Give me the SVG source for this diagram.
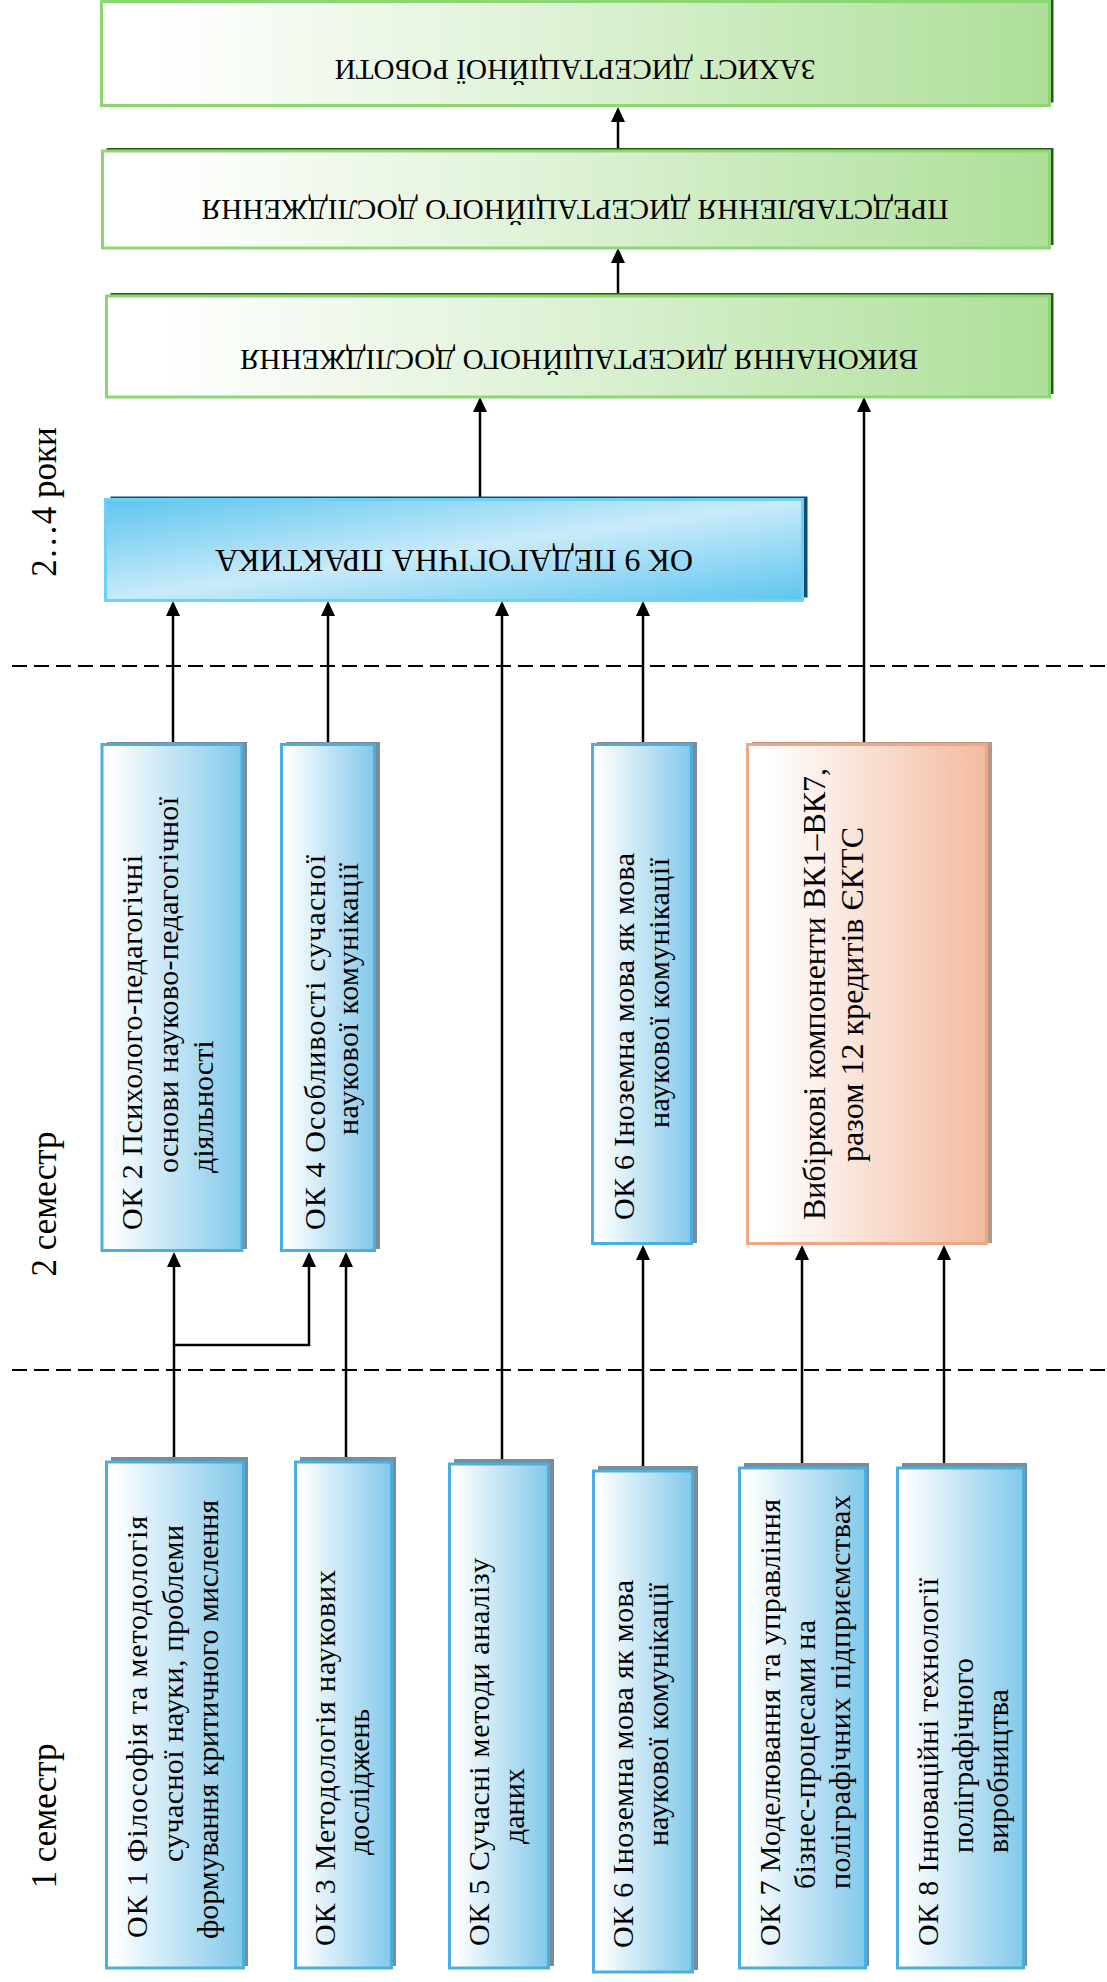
<svg xmlns="http://www.w3.org/2000/svg" width="1107" height="1982" viewBox="0 0 1107 1982">
<style>
.t{font-family:"Liberation Serif","Times New Roman",serif;font-size:30px;fill:#000}
.tv{font-size:32px}
.tg{font-size:29px}
.t9{font-size:31px}
.ts{font-family:"Liberation Serif","Times New Roman",serif;font-size:35px;fill:#000}
.gbox{fill:url(#gGreen);stroke:#8dd773;stroke-width:3}
.gsh{fill:#2b5a1f}
.bbox{fill:url(#gBlue);stroke:#4aaee0;stroke-width:3}
.bsh{fill:#7d8b93}
.vbox{fill:url(#gSalmon);stroke:#f0a584;stroke-width:3}
.vsh{fill:#b4988a}
.pbox{fill:url(#gPed);stroke:#6fd0f5;stroke-width:3}
.psh{fill:#0f4f6d}
.c{stroke:#000;stroke-width:2.5;fill:none}
.ca{stroke:#000;stroke-width:2.5;fill:none;marker-end:url(#ah)}
.d{stroke:#000;stroke-width:2;stroke-dasharray:15 7;fill:none}
</style>
<defs>
<linearGradient id="gGreen" x1="0" y1="0" x2="1" y2="0">
<stop offset="0.06" stop-color="#ffffff"/>
<stop offset="0.5" stop-color="#dcf1d3"/>
<stop offset="1" stop-color="#addf98"/>
</linearGradient>
<linearGradient id="gBlue" x1="0" y1="0" x2="1" y2="0">
<stop offset="0.05" stop-color="#ffffff"/>
<stop offset="1" stop-color="#82c8ea"/>
</linearGradient>
<linearGradient id="gSalmon" x1="0" y1="0" x2="1" y2="0">
<stop offset="0.08" stop-color="#ffffff"/>
<stop offset="1" stop-color="#f2bb9f"/>
</linearGradient>
<linearGradient id="gPed" x1="0" y1="0" x2="1" y2="1">
<stop offset="0" stop-color="#5ec5ef"/>
<stop offset="0.5" stop-color="#c9ebfa"/>
<stop offset="1" stop-color="#5ec5ef"/>
</linearGradient>
<marker id="ah" markerUnits="userSpaceOnUse" markerWidth="16" markerHeight="16" refX="12" refY="7" orient="auto">
<path d="M0,0 L15,7 L0,14 Z" fill="#000"/>
</marker>
</defs>

<g id="side-labels">
<text class="ts" text-anchor="middle" transform="translate(56,502) rotate(-90)">2…4 роки</text>
<text class="ts" text-anchor="middle" transform="translate(56,1204) rotate(-90)">2 семестр</text>
<text class="ts" text-anchor="middle" transform="translate(56,1816) rotate(-90)">1 семестр</text>
</g>

<g id="dividers">
<line class="d" x1="12" y1="666" x2="1107" y2="666"/>
<line class="d" x1="12" y1="1370" x2="1107" y2="1370"/>
</g>

<g id="connectors">
<line class="ca" x1="618" y1="150" x2="618" y2="110"/>
<line class="ca" x1="618" y1="295" x2="618" y2="251"/>
<line class="ca" x1="480" y1="498" x2="480" y2="400"/>
<line class="ca" x1="864" y1="743" x2="864" y2="400"/>
<line class="ca" x1="173" y1="743" x2="173" y2="604"/>
<line class="ca" x1="328" y1="743" x2="328" y2="604"/>
<line class="ca" x1="502" y1="1463" x2="502" y2="604"/>
<line class="ca" x1="643" y1="743" x2="643" y2="604"/>
<line class="ca" x1="174" y1="1461" x2="174" y2="1255"/>
<polyline class="ca" points="174,1345 309,1345 309,1255"/>
<line class="ca" x1="346" y1="1461" x2="346" y2="1255"/>
<line class="ca" x1="643" y1="1470" x2="643" y2="1248"/>
<line class="ca" x1="802" y1="1467" x2="802" y2="1248"/>
<line class="ca" x1="944" y1="1467" x2="944" y2="1248"/>
</g>

<g id="defense">
<rect class="gsh" x="105.5" y="-1.5" width="948" height="104"/>
<rect class="gbox" x="101.5" y="1.5" width="948" height="104"/>
<text class="t tg" text-anchor="middle" transform="translate(575,60) rotate(180)" textLength="481" lengthAdjust="spacingAndGlyphs">ЗАХИСТ ДИСЕРТАЦІЙНОЇ РОБОТИ</text>
</g>

<g id="presentation">
<rect class="gsh" x="106.5" y="148" width="947" height="97"/>
<rect class="gbox" x="102.5" y="151" width="947" height="97"/>
<text class="t tg" text-anchor="middle" transform="translate(575,200) rotate(180)" textLength="747" lengthAdjust="spacingAndGlyphs">ПРЕДСТАВЛЕННЯ ДИСЕРТАЦІЙНОГО ДОСЛІДЖЕННЯ</text>
</g>

<g id="execution">
<rect class="gsh" x="110.5" y="293" width="943" height="101"/>
<rect class="gbox" x="106.5" y="296" width="943" height="101"/>
<text class="t tg" text-anchor="middle" transform="translate(579,350) rotate(180)" textLength="678" lengthAdjust="spacingAndGlyphs">ВИКОНАННЯ ДИСЕРТАЦІЙНОГО ДОСЛІДЖЕННЯ</text>
</g>

<g id="ok9">
<rect class="psh" x="110.5" y="496.5" width="697" height="101"/>
<rect class="pbox" x="105.5" y="499.5" width="697" height="101"/>
<text class="t t9" text-anchor="middle" transform="translate(454,550) rotate(180)" textLength="478" lengthAdjust="spacingAndGlyphs">ОК 9 ПЕДАГОГІЧНА ПРАКТИКА</text>
</g>

<g id="ok2">
<rect class="bsh" x="107" y="742" width="140" height="507"/>
<rect class="bbox" x="102" y="744.5" width="140" height="506"/>
<text class="t" transform="translate(142,1230) rotate(-90)" textLength="375" lengthAdjust="spacing">ОК 2 Психолого-педагогічні</text>
<text class="t" transform="translate(178,1173) rotate(-90)" textLength="376" lengthAdjust="spacing">основи науково-педагогічної</text>
<text class="t" transform="translate(213,1173) rotate(-90)">діяльності</text>
</g>

<g id="ok4">
<rect class="bsh" x="286" y="742" width="94" height="507"/>
<rect class="bbox" x="281.5" y="744.5" width="93" height="506"/>
<text class="t" transform="translate(325,1230) rotate(-90)" textLength="375" lengthAdjust="spacing">ОК 4  Особливості сучасної</text>
<text class="t" transform="translate(358,1135) rotate(-90)" textLength="272" lengthAdjust="spacing">наукової комунікації</text>
</g>

<g id="ok6b">
<rect class="bsh" x="597" y="742" width="100" height="501"/>
<rect class="bbox" x="592.5" y="744.5" width="99" height="499"/>
<text class="t" transform="translate(634,1220) rotate(-90)" textLength="367" lengthAdjust="spacing">ОК 6 Іноземна мова як мова</text>
<text class="t" transform="translate(669,1128) rotate(-90)" textLength="270" lengthAdjust="spacing">наукової комунікації</text>
</g>

<g id="vk">
<rect class="vsh" x="752" y="742" width="240" height="501"/>
<rect class="vbox" x="747.5" y="744.5" width="239" height="499"/>
<text class="t tv" transform="translate(825,1220) rotate(-90)" textLength="452" lengthAdjust="spacing">Вибіркові компоненти ВК1–ВК7,</text>
<text class="t tv" transform="translate(863,1162) rotate(-90)" textLength="335" lengthAdjust="spacing">разом 12 кредитів ЄКТС</text>
</g>

<g id="ok1">
<rect class="bsh" x="111" y="1457" width="137" height="509"/>
<rect class="bbox" x="106.5" y="1462" width="137" height="506"/>
<text class="t" transform="translate(147,1938) rotate(-90)" textLength="422" lengthAdjust="spacing">ОК 1 Філософія та методологія</text>
<text class="t" transform="translate(183,1862) rotate(-90)" textLength="337" lengthAdjust="spacing">сучасної науки, проблеми</text>
<text class="t" transform="translate(218,1939) rotate(-90)" textLength="439" lengthAdjust="spacing">формування критичного мислення</text>
</g>

<g id="ok3">
<rect class="bsh" x="300" y="1457" width="96" height="509"/>
<rect class="bbox" x="295.5" y="1462" width="96" height="506"/>
<text class="t" transform="translate(335,1946) rotate(-90)" textLength="376" lengthAdjust="spacing">ОК 3  Методологія наукових</text>
<text class="t" transform="translate(369,1855) rotate(-90)">досліджень</text>
</g>

<g id="ok5">
<rect class="bsh" x="454" y="1459" width="100" height="507"/>
<rect class="bbox" x="449.5" y="1464" width="99" height="504"/>
<text class="t" transform="translate(489,1946) rotate(-90)" textLength="388" lengthAdjust="spacing">ОК 5  Сучасні методи аналізу</text>
<text class="t" transform="translate(524,1844) rotate(-90)">даних</text>
</g>

<g id="ok6a">
<rect class="bsh" x="598" y="1466" width="100" height="504"/>
<rect class="bbox" x="593.5" y="1471" width="99" height="501"/>
<text class="t" transform="translate(633,1948) rotate(-90)" textLength="368" lengthAdjust="spacing">ОК 6 Іноземна мова як мова</text>
<text class="t" transform="translate(668,1846) rotate(-90)" textLength="263" lengthAdjust="spacing">наукової комунікації</text>
</g>

<g id="ok7">
<rect class="bsh" x="744" y="1463" width="125" height="503"/>
<rect class="bbox" x="739.5" y="1468" width="126" height="500"/>
<text class="t" transform="translate(780,1946) rotate(-90)" textLength="447" lengthAdjust="spacing">ОК 7 Моделювання та управління</text>
<text class="t" transform="translate(815,1889) rotate(-90)" textLength="269" lengthAdjust="spacing">бізнес-процесами на</text>
<text class="t" transform="translate(850,1889) rotate(-90)" textLength="394" lengthAdjust="spacing">поліграфічних підприємствах</text>
</g>

<g id="ok8">
<rect class="bsh" x="902" y="1463" width="125" height="503"/>
<rect class="bbox" x="897.5" y="1468" width="126" height="500"/>
<text class="t" transform="translate(938,1946) rotate(-90)" textLength="368" lengthAdjust="spacing">ОК 8 Інноваційні технології</text>
<text class="t" transform="translate(973,1853) rotate(-90)">поліграфічного</text>
<text class="t" transform="translate(1008,1853) rotate(-90)">виробництва</text>
</g>
</svg>
